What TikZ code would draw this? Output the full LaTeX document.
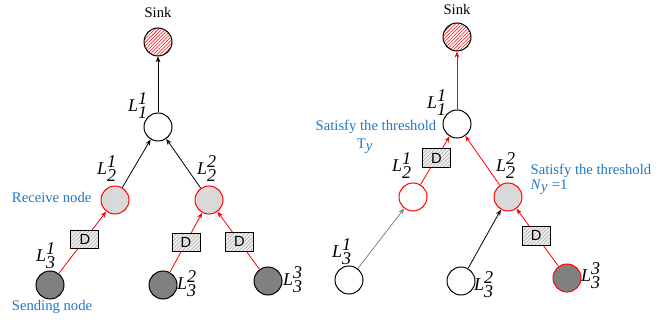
\documentclass[tikz,border=0pt]{standalone}
\usepackage{fontspec}
\setmainfont{Liberation Serif}
\setsansfont{Liberation Sans}
\usetikzlibrary{arrows.meta, positioning, patterns.meta}
\definecolor{notetext}{HTML}{1F77C4}
\definecolor{darknode}{HTML}{808080}
\definecolor{lightnode}{HTML}{D9D9D9}
\newcommand{\lname}[2]{\textit{L}$_{\textit{#1}}^{\textit{#2}}$}

\begin{document}
\begin{tikzpicture}[x=0.75pt, y=-0.75pt, >={Stealth[length=4.5pt,width=3.5pt]},
  font=\fontsize{11}{13}\selectfont,
  sensor/.style={circle, draw, line width=0.75pt, minimum size=21pt, inner sep=0pt, fill=white},
  sinknode/.style={sensor, fill=none, pattern={Lines[angle=45,distance=1.8pt,line width=0.4pt]}, pattern color=red},
  sent/.style={sensor, fill=darknode},
  recv/.style={sensor, draw=red, fill=lightnode},
  dbox/.style={draw=black, text=black, line width=0.6pt, minimum width=21pt, minimum height=14pt, inner sep=0pt,
    font=\sffamily\fontsize{11}{11}\selectfont, preaction={fill=gray!12},
    pattern={Lines[angle=45,distance=2pt,line width=0.4pt]}, pattern color=gray!70},
  link/.style={->, line width=0.6pt},
  note/.style={text=notetext, inner sep=1pt},
  lbl/.style={font=\fontsize{13.5}{14}\selectfont, inner sep=0pt}]
  \useasboundingbox (0,0) rectangle (666,320);

  % Left tree
  \node (sinkAtxt) at (158,12) {Sink};
  \node[sinknode] (sinkA) at (158,42) {};
  \node[sensor] (l11a) at (158,127) {};
  \node[recv] (l21a) at (115,200) {};
  \node[recv] (l22a) at (209,200) {};
  \node[sent] (l31a) at (50,285) {};
  \node[sent] (l32a) at (163,285) {};
  \node[sent] (l33a) at (268,281) {};

  \node[lbl] at (138,106) {\lname{1}{1}};
  \node[lbl] at (107,169) {\lname{2}{1}};
  \node[lbl] at (207,169) {\lname{2}{2}};
  \node[lbl] at (46,256) {\lname{3}{1}};
  \node[lbl] at (187,284) {\lname{3}{2}};
  \node[lbl] at (293,280) {\lname{3}{3}};

  \draw[link] (l11a) -- (sinkA);
  \draw[link] (l21a) -- (l11a);
  \draw[link] (l22a) -- (l11a);
  \draw[link, red] (l31a) -- node[dbox, pos=.55] (da1) {D} (l21a);
  \draw[link, red] (l32a) -- node[dbox, pos=.5] (da2) {D} (l22a);
  \draw[link, red] (l33a) -- node[dbox, pos=.48] (da3) {D} (l22a);

  \node[note, anchor=east] (recvnote) at (93,197) {Receive node};
  \node[note] (sendnote) at (52,307) {Sending node};

  % Right tree
  \node (sinkBtxt) at (457,9) {Sink};
  \node[sinknode] (sinkB) at (457,37) {};
  \node[sensor] (l11b) at (457,124) {};
  \node[sensor, draw=red] (l21b) at (413,197) {};
  \node[recv] (l22b) at (508,197) {};
  \node[sensor] (l31b) at (349,280) {};
  \node[sensor] (l32b) at (461,281) {};
  \node[sent, draw=red] (l33b) at (567,278) {};

  \node[lbl] at (437,103) {\lname{1}{1}};
  \node[lbl] at (402,166) {\lname{2}{1}};
  \node[lbl] at (506,166) {\lname{2}{2}};
  \node[lbl] at (342,252) {\lname{3}{1}};
  \node[lbl] at (484,285) {\lname{3}{2}};
  \node[lbl] at (591,276) {\lname{3}{3}};

  \draw[link, red] (l11b) -- (sinkB);
  \draw[link, red] (l21b) -- node[dbox, pos=.55] (db1) {D} (l11b);
  \draw[link, red] (l22b) -- (l11b);
  \draw[link, gray] (l31b) -- (l21b);
  \draw[link] (l32b) -- (l22b);
  \draw[link, red] (l33b) -- node[dbox, pos=.53] (db2) {D} (l22b);

  \node[note] (thrA) at (376,127) {Satisfy the threshold};
  \node[note] (thrAval) at (365,146) {T$_{\textit{y}}$};
  \node[note, anchor=west] (thrB) at (529,171) {Satisfy the threshold};
  \node[note, anchor=west] (thrBval) at (529,187) {\textit{N}$_{\textit{y}}$ =1};
\end{tikzpicture}
\end{document}
